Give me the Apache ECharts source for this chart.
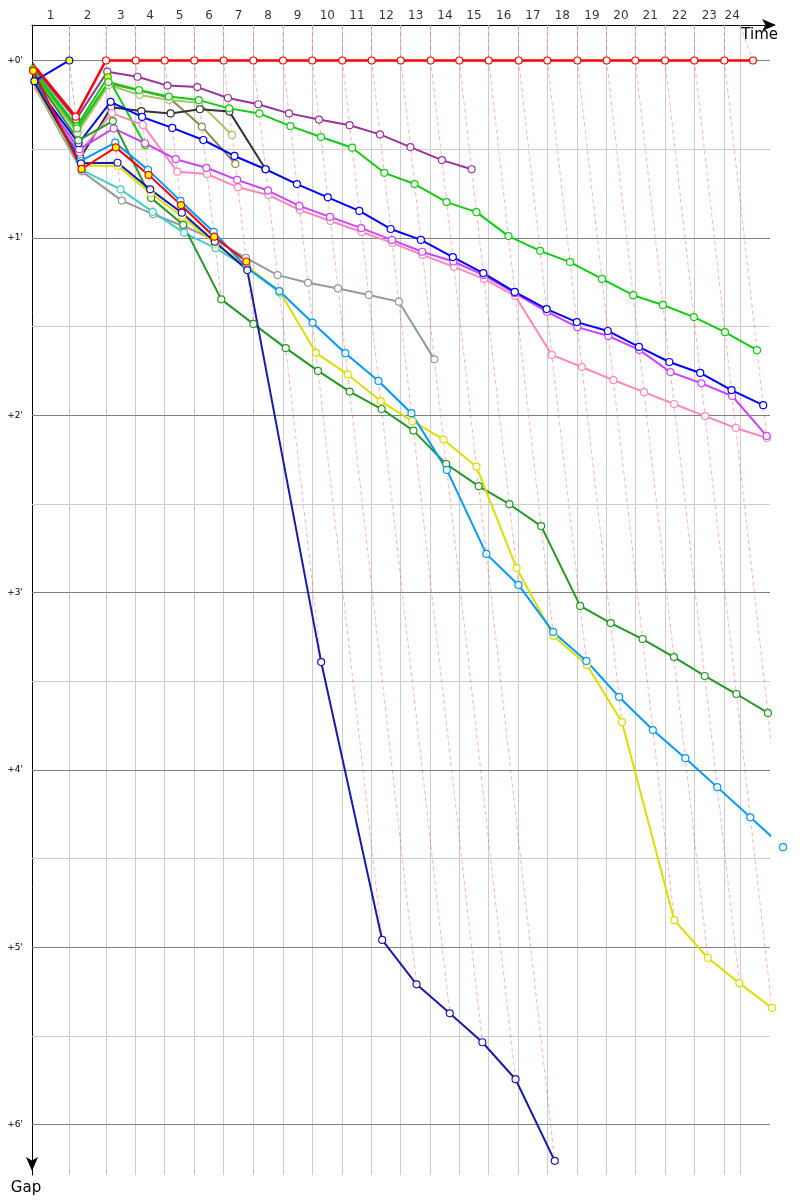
<!DOCTYPE html>
<html>
<head>
<meta charset="utf-8">
<script src="https://cdn.jsdelivr.net/npm/echarts@6/dist/echarts.min.js"></script>
<style>
html, body { margin: 0; padding: 0; background: #fff; }
#chart { width: 800px; height: 1200px; }
</style>
</head>
<body>
<div id="chart"></div>
<script>
// leader's time (s) at the end of each lap, index 0 = start
var lapTimes = [0, 112, 222, 311, 398, 487, 575, 664, 753, 841, 931, 1019, 1106, 1196, 1282, 1370, 1460, 1546, 1636, 1724, 1810, 1899, 1987, 2077, 2163];
var timeLimit = 2124;
var lapNames = ['1', '2', '3', '4', '5', '6', '7', '8', '9', '10', '11', '12', '13', '14', '15', '16', '17', '18', '19', '20', '21', '22', '23', '24'];
var gapTicks = [0, 60, 120, 180, 240, 300, 360];
var gapTickLabels = ["+0'", "+1'", "+2'", "+3'", "+4'", "+5'", "+6'"];
var gapHalfTicks = [30, 90, 150, 210, 270, 330];

// gap to the leader (s) at the end of each lap, from lap 0
var gapLeader = [1, 19, 0, 0, 0, 0, 0, 0, 0, 0, 0, 0, 0, 0, 0, 0, 0, 0, 0, 0, 0, 0, 0, 0, 0];
var gapBlueOut = [7, 0];
var gapPurple = [2, 20, 3.8, 5.5, 8.5, 9, 12.7, 14.8, 17.9, 20, 21.9, 25, 29.3, 33.7, 36.8];
var gapGreenOut = [3, 22.2, 5.6, 28.6];
var gapGreen = [4, 23, 7.3, 10, 12.2, 13.4, 16.2, 17.9, 22.2, 25.9, 29.5, 38, 41.8, 47.9, 51.3, 59.4, 64.4, 68.2, 73.9, 79.4, 82.7, 86.8, 91.9, 98];
var gapOlive = [5, 24, 7.8, 10.2, 12.5, 22.4, 35];
var gapLightOlive = [5.5, 24.5, 8.3, 11.7, 13.4, 14.3, 25.2];
var gapBlack = [6, 33, 15.8, 17.1, 17.9, 16.5, 17.3, 36.8];
var gapBlue = [8, 28, 14, 19.1, 22.8, 26.9, 32.3, 36.8, 41.8, 46.3, 50.9, 57, 60.7, 66.5, 71.9, 78.3, 84.1, 88.5, 91.5, 96.9, 102, 105.7, 111.5, 116.6];
var gapMagenta = [9, 30, 23, 28, 33.4, 36.3, 40.4, 44, 49.2, 52.9, 56.7, 60.7, 64.7, 68, 72.6, 78.7, 85, 90.2, 93.2, 97.9, 105.4, 109.2, 113.5, 127];
var gapPink = [9.5, 31, 17.8, 21.8, 37.6, 38.4, 42.9, 45.5, 50.6, 54.3, 58, 61.7, 65.8, 69.8, 73.9, 79.7, 99.6, 103.7, 108.1, 112.2, 116.2, 120.3, 124.3, 127.7];
var gapDarkGreen = [5, 27, 20.5, 46.5, 55.6, 80.8, 89.1, 97.3, 105, 112, 117.9, 125.2, 136.5, 144, 150.1, 157.5, 184.5, 190.3, 195.7, 201.8, 208.2, 214.3, 220.7];
var gapAzure = [6.5, 34, 27.8, 37, 47.5, 58, 70.2, 78, 88.7, 99, 108.4, 119.3, 138.5, 166.9, 177.4, 193.3, 203.1, 215.3, 226.5, 236, 245.8, 256, 266.1];
var gapYellow = [8.5, 35.5, 35.7, 44.9, 52.8, 62, 69.5, 78, 98.9, 106.2, 115.2, 122, 128.2, 137.4, 171.7, 194.7, 204.5, 223.8, 290.8, 303.6, 312.1, 320.5];
var gapNavy = [7.5, 34.8, 34.6, 43.6, 51.5, 61.3, 70.9, 203.5, 297.5, 312.5, 322.3, 332.1, 344.6, 372.2];
var gapGray = [9, 37.5, 47.4, 52, 56, 60.7, 66.8, 72.6, 75.2, 77.1, 79.3, 81.6, 101.1];
var gapTeal = [8, 37, 43.6, 51.2, 58.3, 63.5, 70, 78.5];
var gapRedOut = [3.5, 36.7, 29.4, 38.7, 48.9, 59.6, 68];

// draw order: first is at the bottom
var cars = [
  { gaps: gapGray, color: '#999999' },
  { gaps: gapTeal, color: '#44cccc' },
  { gaps: gapOlive, color: '#8a8a4a' },
  { gaps: gapLightOlive, color: '#a8c46c' },
  { gaps: gapBlack, color: '#333333' },
  { gaps: gapPurple, color: '#993399' },
  { gaps: gapGreenOut, color: '#11cc11', fill: '#ffff00' },
  { gaps: gapGreen, color: '#11cc11' },
  { gaps: gapPink, color: '#ff88bb' },
  { gaps: gapMagenta, color: '#cc44ff' },
  { gaps: gapBlue, color: '#0000ff' },
  { gaps: gapDarkGreen, color: '#229922' },
  { gaps: gapYellow, color: '#dddd00' },
  { gaps: gapAzure, color: '#0099ff' },
  { gaps: gapNavy, color: '#1a1aaa' },
  { gaps: gapRedOut, color: '#ff0000', fill: '#ffff00' },
  { gaps: gapBlueOut, color: '#0000ff', fill: '#ffff00' },
  { gaps: gapLeader, color: '#ff0000', width: 2.5 }
];

var gridTimes = lapTimes.slice(1, 24).concat([timeLimit]);
var gapMin = -12, gapMax = 377;

function hexToFaint(hex) {
  var r = parseInt(hex.substr(1, 2), 16), g = parseInt(hex.substr(3, 2), 16), b = parseInt(hex.substr(5, 2), 16);
  return 'rgba(' + r + ',' + g + ',' + b + ',0.3)';
}

var series = [];

// grid lines
var gridMarks = [];
gridTimes.forEach(function (t) {
  gridMarks.push({ xAxis: t, lineStyle: { color: '#cccccc', width: 1, type: 'solid' } });
});
gapHalfTicks.forEach(function (g) {
  gridMarks.push({ yAxis: g, lineStyle: { color: '#cccccc', width: 1, type: 'solid' } });
});
gapTicks.forEach(function (g, i) {
  gridMarks.push({
    yAxis: g,
    lineStyle: { color: '#808080', width: 1, type: 'solid' },
    label: { show: true, position: 'start', distance: 9, formatter: gapTickLabels[i], fontSize: 9, color: '#000' }
  });
});
series.push({
  type: 'line',
  data: [],
  silent: true,
  z: 1,
  markLine: {
    z: 1,
    silent: true,
    animation: false,
    symbol: ['none', 'none'],
    label: { show: false },
    emphasis: { disabled: true },
    data: gridMarks
  }
});

// lap lines
for (var n = 1; n <= 24; n++) {
  var maxGap = 0, leaderColor = '#ff0000';
  cars.forEach(function (c) {
    var g = c.gaps[n];
    if (g === undefined) return;
    if (g > maxGap) maxGap = g;
    if (g === 0) leaderColor = c.color;
  });
  var pts = [[gridTimes[n - 1], gapMin], [lapTimes[n], 0]];
  if (maxGap > 0) pts.push([lapTimes[n] + maxGap, maxGap]);
  series.push({
    type: 'line',
    data: pts,
    symbol: 'none',
    silent: true,
    clip: false,
    z: 2,
    lineStyle: { color: hexToFaint(leaderColor), width: 1, type: [4, 3] }
  });
}

// cars
cars.forEach(function (c) {
  var data = c.gaps.map(function (g, lap) {
    var item = { value: [lapTimes[lap] + g, g] };
    if (lap === 0 && !c.fill) item.symbol = 'none';
    return item;
  });
  series.push({
    type: 'line',
    data: data,
    symbol: 'circle',
    symbolSize: 7,
    silent: true,
    clip: false,
    z: 3,
    lineStyle: { color: c.color, width: c.width || 2 },
    itemStyle: { color: c.fill || '#ffffff', borderColor: c.color, borderWidth: 1.2 }
  });
});

// lap numbers along the top
var lapMids = gridTimes.map(function (t, i) {
  var prev = i === 0 ? 0 : gridTimes[i - 1];
  return [(prev + t) / 2, gapMin];
});
series.push({
  type: 'scatter',
  data: lapMids,
  symbolSize: 0,
  silent: true,
  clip: false,
  z: 5,
  label: {
    show: true,
    position: 'top',
    distance: 3,
    color: '#000',
    fontSize: 12,
    formatter: function (p) { return lapNames[p.dataIndex]; }
  }
});

var chart = echarts.init(document.getElementById('chart'));
chart.setOption({
  animation: false,
  backgroundColor: '#ffffff',
  textStyle: { fontFamily: 'DejaVu Sans' },
  grid: { left: 32, right: 30, top: 25, bottom: 25, containLabel: false, outerBoundsMode: 'none' },
  xAxis: {
    type: 'value',
    position: 'top',
    min: 0,
    max: 2214,
    name: 'Time',
    nameLocation: 'end',
    nameGap: 8,
    nameTextStyle: { fontSize: 15, color: '#000', align: 'right', verticalAlign: 'top', padding: [3, 0, 0, 0] },
    axisLine: {
      show: true, onZero: false,
      lineStyle: { color: '#000', width: 1 },
      symbol: ['none', 'arrow'], symbolSize: [9, 14], symbolOffset: [0, 6]
    },
    axisTick: { show: false },
    axisLabel: { show: false },
    splitLine: { show: false }
  },
  yAxis: {
    type: 'value',
    inverse: true,
    min: gapMin,
    max: gapMax,
    name: 'Gap',
    nameLocation: 'end',
    nameGap: 6,
    nameTextStyle: { fontSize: 15, color: '#000', align: 'center', verticalAlign: 'top', padding: [0, 12, 0, 0] },
    axisLine: {
      show: true, onZero: false,
      lineStyle: { color: '#000', width: 1 },
      symbol: ['arrow', 'none'], symbolSize: [9, 14], symbolOffset: [4, 0]
    },
    axisTick: { show: false },
    axisLabel: { show: false },
    splitLine: { show: false }
  },
  series: series
});
</script>
</body>
</html>
